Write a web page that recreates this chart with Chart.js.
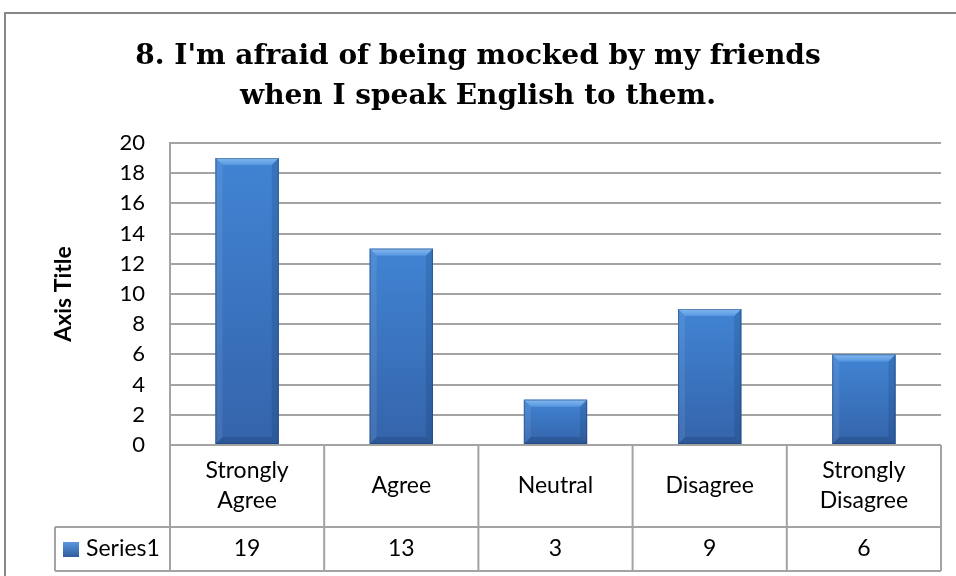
<!DOCTYPE html>
<html>
<head>
<meta charset="utf-8">
<script src="https://cdn.jsdelivr.net/npm/chart.js@4/dist/chart.umd.min.js"></script>
<style>
  html, body { margin: 0; padding: 0; background: #fff; }
  #wrap { width: 956px; height: 576px; position: relative; }
</style>
</head>
<body>
<div id="wrap"><canvas id="c" width="956" height="576"></canvas></div>
<script>
// Survey responses for statement 8
const titleLines = ["8. I'm afraid of being mocked by my friends", "when I speak English to them."];
const categories = [["Strongly", "Agree"], ["Agree"], ["Neutral"], ["Disagree"], ["Strongly", "Disagree"]];
const seriesName = "Series1";
const series1 = [19, 13, 3, 9, 6];
const yMin = 0, yMax = 20, yStep = 2;

const GRID = '#a3a3a3';
const TEXT_FONT = '"Lato", "Open Sans", sans-serif';

// Outer frame, two-line title and the data table beneath the plot
const decorations = {
  id: 'decorations',
  beforeDraw(chart) {
    const ctx = chart.ctx;
    ctx.save();
    ctx.fillStyle = '#fff';
    ctx.fillRect(0, 0, chart.width, chart.height);
    ctx.strokeStyle = '#878787';
    ctx.lineWidth = 2;
    ctx.beginPath();
    ctx.moveTo(5, chart.height);
    ctx.lineTo(5, 13);
    ctx.lineTo(chart.width, 13);
    ctx.stroke();
    ctx.fillStyle = '#000';
    ctx.font = 'bold 28px "DejaVu Serif", serif';
    ctx.textAlign = 'center';
    ctx.textBaseline = 'middle';
    ctx.fillText(titleLines[0], 478, 57);
    ctx.fillText(titleLines[1], 478, 97);
    ctx.restore();
  },
  afterDatasetsDraw(chart) {
    const ctx = chart.ctx;
    const meta = chart.getDatasetMeta(0);
    // bevelled face over each bar element
    meta.data.forEach((bar) => {
      const x0 = bar.x - bar.width / 2, x1 = bar.x + bar.width / 2;
      const y0 = bar.y, y1 = bar.base;
      const b = Math.min(7, (y1 - y0) / 3);
      ctx.save();
      const g = ctx.createLinearGradient(0, y0, 0, y1);
      g.addColorStop(0, '#4184d3');
      g.addColorStop(1, '#3464ab');
      ctx.fillStyle = g;
      ctx.fillRect(x0, y0, x1 - x0, y1 - y0);
      // top bevel
      const gt = ctx.createLinearGradient(0, y0, 0, y0 + b);
      gt.addColorStop(0, '#86b9f0');
      gt.addColorStop(1, '#5596e0');
      ctx.fillStyle = gt;
      ctx.beginPath();
      ctx.moveTo(x0, y0); ctx.lineTo(x1, y0); ctx.lineTo(x1 - b, y0 + b); ctx.lineTo(x0 + b, y0 + b);
      ctx.closePath(); ctx.fill();
      // left bevel
      ctx.fillStyle = 'rgba(255,255,255,0.08)';
      ctx.beginPath();
      ctx.moveTo(x0, y0); ctx.lineTo(x0 + b, y0 + b); ctx.lineTo(x0 + b, y1 - b); ctx.lineTo(x0, y1);
      ctx.closePath(); ctx.fill();
      // right bevel
      ctx.fillStyle = 'rgba(10,25,60,0.14)';
      ctx.beginPath();
      ctx.moveTo(x1, y0); ctx.lineTo(x1 - b, y0 + b); ctx.lineTo(x1 - b, y1 - b); ctx.lineTo(x1, y1);
      ctx.closePath(); ctx.fill();
      // bottom bevel
      ctx.fillStyle = 'rgba(10,25,60,0.18)';
      ctx.beginPath();
      ctx.moveTo(x0, y1); ctx.lineTo(x0 + b, y1 - b); ctx.lineTo(x1 - b, y1 - b); ctx.lineTo(x1, y1);
      ctx.closePath(); ctx.fill();
      ctx.strokeStyle = 'rgba(20,50,100,0.4)';
      ctx.lineWidth = 1;
      ctx.strokeRect(x0 + 0.5, y0 + 0.5, x1 - x0 - 1, y1 - y0 - 1);
      ctx.restore();
    });
  },
  afterDraw(chart) {
    const ctx = chart.ctx;
    const xs = chart.scales.x;
    const area = chart.chartArea;
    const n = categories.length;
    const cw = (area.right - area.left) / n;
    const rowTop = area.bottom;
    const rowMid = rowTop + 82;
    const rowBot = rowMid + 44;
    const labelLeft = 55;
    ctx.save();
    ctx.strokeStyle = GRID;
    ctx.lineWidth = 2;
    ctx.beginPath();
    ctx.moveTo(area.left, rowTop); ctx.lineTo(area.right, rowTop);
    ctx.moveTo(labelLeft, rowMid); ctx.lineTo(area.right, rowMid);
    ctx.moveTo(labelLeft, rowBot); ctx.lineTo(area.right, rowBot);
    ctx.moveTo(labelLeft, rowMid); ctx.lineTo(labelLeft, rowBot);
    for (let i = 0; i <= n; i++) {
      const x = i < n ? xs.getPixelForValue(i) - cw / 2 : xs.getPixelForValue(n - 1) + cw / 2;
      ctx.moveTo(x, rowTop); ctx.lineTo(x, rowBot);
    }
    ctx.stroke();

    ctx.fillStyle = '#000';
    ctx.font = '23px ' + TEXT_FONT;
    ctx.textAlign = 'center';
    ctx.textBaseline = 'middle';
    const lh = 30;
    categories.forEach((lines, i) => {
      const x = xs.getPixelForValue(i);
      const cy = (rowTop + rowMid) / 2;
      lines.forEach((t, k) => {
        ctx.fillText(t, x, cy + (k - (lines.length - 1) / 2) * lh);
      });
      ctx.fillText(String(chart.data.datasets[0].data[i]), x, (rowMid + rowBot) / 2);
    });
    // legend key and series name
    const ky = (rowMid + rowBot) / 2;
    const kg = ctx.createLinearGradient(0, ky - 7, 0, ky + 8);
    kg.addColorStop(0, '#5b97de');
    kg.addColorStop(1, '#2f5d9e');
    ctx.fillStyle = kg;
    ctx.fillRect(63, ky - 7, 16, 15);
    ctx.fillStyle = '#000';
    ctx.textAlign = 'left';
    ctx.fillText(seriesName, 86, ky);
    ctx.restore();
  }
};

new Chart(document.getElementById('c'), {
  type: 'bar',
  data: {
    labels: categories.map(l => l.join(' ')),
    datasets: [{
      label: seriesName,
      data: series1,
      backgroundColor: '#3a72bd',
      borderWidth: 0,
      categoryPercentage: 1,
      barPercentage: 0.41
    }]
  },
  options: {
    responsive: false,
    animation: false,
    events: [],
    layout: { padding: { top: 143, left: 0, right: 15, bottom: 131 } },
    plugins: { legend: { display: false }, title: { display: false }, tooltip: { enabled: false } },
    scales: {
      x: { display: false },
      y: {
        min: yMin, max: yMax,
        ticks: { stepSize: yStep, color: '#000', padding: 25, font: { family: TEXT_FONT, size: 22 } },
        grid: { color: GRID, lineWidth: 2, drawTicks: false },
        border: { display: true, color: GRID, width: 2 },
        title: {
          display: true, text: 'Axis Title', color: '#000',
          font: { family: TEXT_FONT, size: 23, weight: 'bold', lineHeight: 1.2 },
          padding: { top: 50, bottom: 0 }
        },
        afterFit(scale) {
          scale.width = 170;
          scale.paddingTop = 0;
          scale.paddingBottom = 0;
        }
      }
    }
  },
  plugins: [decorations]
});
</script>
</body>
</html>
